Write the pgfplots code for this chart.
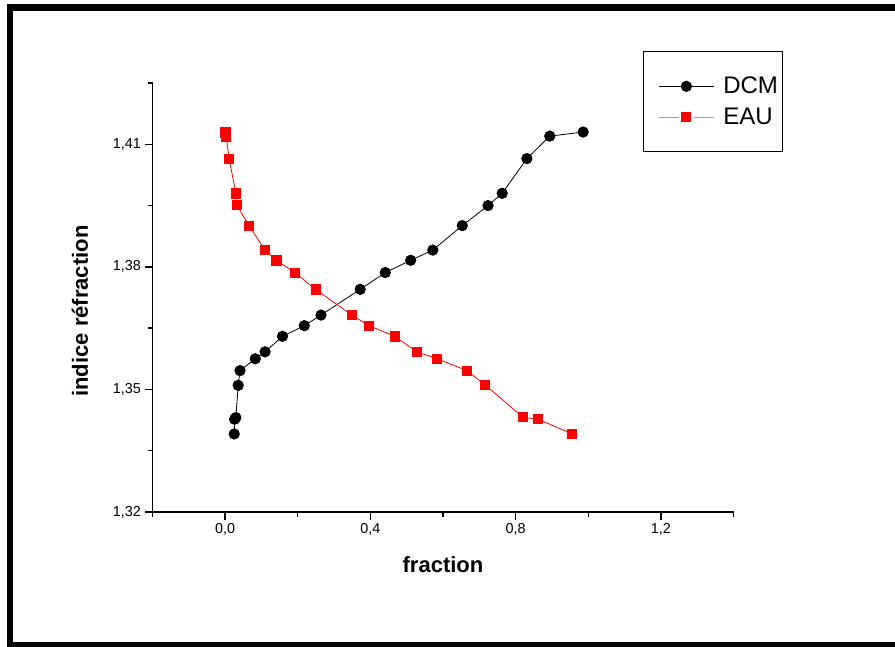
\documentclass[border=0pt]{standalone}
\usepackage{fontspec}
\setmainfont{Liberation Sans}
\usepackage{pgfplots}
\pgfplotsset{compat=1.18}

\pgfplotstableread{
x y
0.025 1.3391
0.026 1.3427
0.0295 1.3431
0.036 1.3510
0.041 1.3546
0.083 1.3575
0.110 1.3592
0.158 1.3630
0.218 1.3656
0.264 1.3682
0.372 1.3745
0.441 1.3786
0.511 1.3816
0.572 1.3841
0.653 1.3901
0.724 1.3950
0.763 1.3980
0.831 1.4065
0.894 1.4120
0.986 1.4130
}\dcm

\pgfplotstableread{
x y
0.001 1.4129
0.003 1.4119
0.011 1.4065
0.0295 1.3980
0.032 1.3951
0.066 1.3901
0.1095 1.3841
0.141 1.3816
0.192 1.3786
0.249 1.3745
0.349 1.3682
0.396 1.3656
0.467 1.3630
0.528 1.3592
0.584 1.3575
0.666 1.3546
0.716 1.3511
0.820 1.3432
0.862 1.3427
0.956 1.3391
}\eau

\begin{document}
\begin{tikzpicture}[x=1pt,y=1pt]
\useasboundingbox (0,0) rectangle (895,646);
\clip (0,0) rectangle (895,646);
\draw[line width=6.5pt] (10,0.8) rectangle (905,638.5);
\begin{axis}[
  at={(152.5pt,134pt)}, anchor=south west,
  scale only axis, width=581pt, height=429pt,
  xmin=-0.2, xmax=1.4, ymin=1.32, ymax=1.425,
  axis lines*=left,
  axis line style={-, line width=1.5pt},
  xtick={0,0.4,0.8,1.2},
  minor xtick={-0.2,0.2,0.6,1.0,1.4},
  ytick={1.32,1.35,1.38,1.41},
  minor ytick={1.335,1.365,1.395,1.425},
  tick align=outside,
  major tick length=8pt,
  minor tick length=4.5pt,
  every tick/.style={black, line width=1.3pt},
  /pgf/number format/assume math mode=true,
  xticklabel style={font=\fontsize{14.4}{16}\selectfont,
    /pgf/number format/.cd, fixed, fixed zerofill, precision=1, use comma},
  yticklabel style={font=\fontsize{14.4}{16}\selectfont,
    /pgf/number format/.cd, fixed, fixed zerofill, precision=2, use comma},
  xlabel={\bfseries fraction},
  ylabel={\bfseries indice réfraction},
  xlabel style={font=\fontsize{22}{26}\selectfont, at={(axis description cs:0.5,-0.1235)}, anchor=center},
  ylabel style={font=\fontsize{22}{26}\selectfont, at={(axis description cs:-0.1248,0.4685)}, anchor=center},
  clip=false,
  legend style={at={(0.8442,1.0746)}, anchor=north west, draw=black, line width=1pt,
    font=\fontsize{24}{29}\selectfont, inner xsep=3pt, inner ysep=22.7pt,
    nodes={inner xsep=2pt, inner ysep=3pt},
    legend cell align=left, row sep=6.8pt},
]
\addplot[black, line width=0.8pt, mark=*, mark size=5.2pt, mark options={solid, fill=black},
  legend image code/.code={\path (0pt,0pt) (74pt,0pt);
    \draw[line width=0.8pt, black] (12pt,0pt) -- (67pt,0pt);
    \fill[black] (39.5pt,0pt) circle (5.2pt);}]
  table[x=x,y=y] {\dcm};
\addlegendentry{DCM}
\addplot[red, line width=0.8pt, mark=square*, mark size=4.6pt, mark options={solid, fill=red},
  legend image code/.code={\path (0pt,0pt) (74pt,0pt);
    \draw[line width=1pt, red!55] (12pt,0pt) -- (32pt,0pt) (47pt,0pt) -- (67pt,0pt);
    \fill[red] (35pt,-4.6pt) rectangle (44pt,4.6pt);}]
  table[x=x,y=y] {\eau};
\addlegendentry{EAU\rule[-12.3pt]{0pt}{0pt}}
\end{axis}
\end{tikzpicture}
\end{document}
